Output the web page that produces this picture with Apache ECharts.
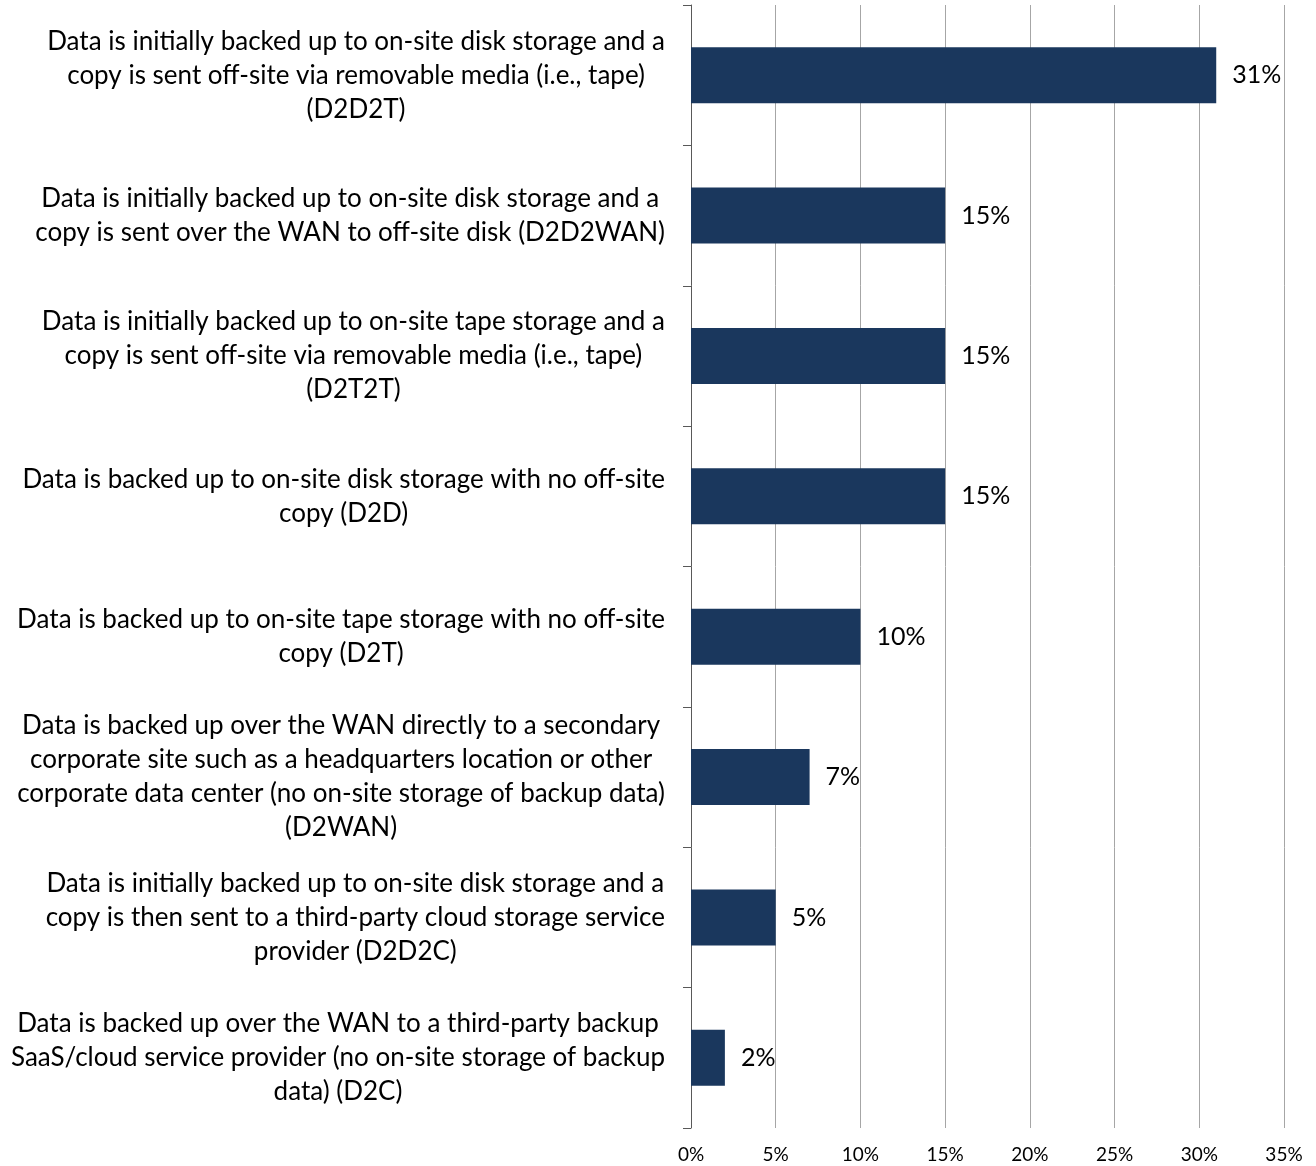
<!DOCTYPE html>
<html>
<head>
<meta charset="utf-8">
<script src="https://cdn.jsdelivr.net/npm/echarts@6/dist/echarts.min.js"></script>
<style>
html,body{margin:0;padding:0;background:#fff;}
#chart{width:1316px;height:1166px;}
</style>
</head>
<body>
<div id="chart"></div>
<script>
const categories = [
  "Data is initially backed up to on-site disk storage and a\ncopy is sent off-site via removable media (i.e., tape)\n(D2D2T)",
  "Data is initially backed up to on-site disk storage and a\ncopy is sent over the WAN to off-site disk (D2D2WAN)",
  "Data is initially backed up to on-site tape storage and a\ncopy is sent off-site via removable media (i.e., tape)\n(D2T2T)",
  "Data is backed up to on-site disk storage with no off-site\ncopy (D2D)",
  "Data is backed up to on-site tape storage with no off-site\ncopy (D2T)",
  "Data is backed up over the WAN directly to a secondary\ncorporate site such as a headquarters location or other\ncorporate data center (no on-site storage of backup data)\n(D2WAN)",
  "Data is initially backed up to on-site disk storage and a\ncopy is then sent to a third-party cloud storage service\nprovider (D2D2C)",
  "Data is backed up over the WAN to a third-party backup\nSaaS/cloud service provider (no on-site storage of backup\ndata) (D2C)"
];
const values = [31, 15, 15, 15, 10, 7, 5, 2];
const xTicks = [0, 5, 10, 15, 20, 25, 30, 35];

const FONT = "Lato, 'Liberation Sans', sans-serif";
const chart = echarts.init(document.getElementById('chart'), null, {renderer: 'canvas'});
chart.setOption({
  backgroundColor: '#ffffff',
  animation: false,
  grid: {left: 691, right: 32, top: 5, bottom: 38, containLabel: false, outerBoundsMode: 'none'},
  xAxis: {
    type: 'value',
    min: xTicks[0],
    max: xTicks[xTicks.length - 1],
    interval: 5,
    axisLine: {show: false},
    axisTick: {show: false},
    splitLine: {show: true, lineStyle: {color: '#a6a6a6', width: 1}},
    axisLabel: {
      formatter: '{value}%',
      color: '#000',
      fontFamily: FONT,
      fontSize: 19,
      margin: 17
    }
  },
  yAxis: {
    type: 'category',
    inverse: true,
    data: categories,
    axisLine: {show: true, lineStyle: {color: '#595959', width: 1}},
    axisTick: {show: true, length: 8, lineStyle: {color: '#595959'}},
    splitLine: {show: false},
    axisLabel: {
      margin: 26,
      formatter: function (v) {
        return v.split('\n').map(function (l) { return '{c|' + l + '}'; }).join('\n');
      },
      rich: {
        c: {align: 'center', fontFamily: FONT, fontSize: 26, lineHeight: 34, color: '#000'}
      }
    }
  },
  series: [{
    type: 'bar',
    data: values,
    barWidth: 56,
    itemStyle: {color: '#1a375d'},
    label: {
      show: true,
      position: 'right',
      distance: 16,
      formatter: '{c}%',
      color: '#000',
      fontFamily: FONT,
      fontSize: 25
    }
  }]
});
</script>
</body>
</html>
